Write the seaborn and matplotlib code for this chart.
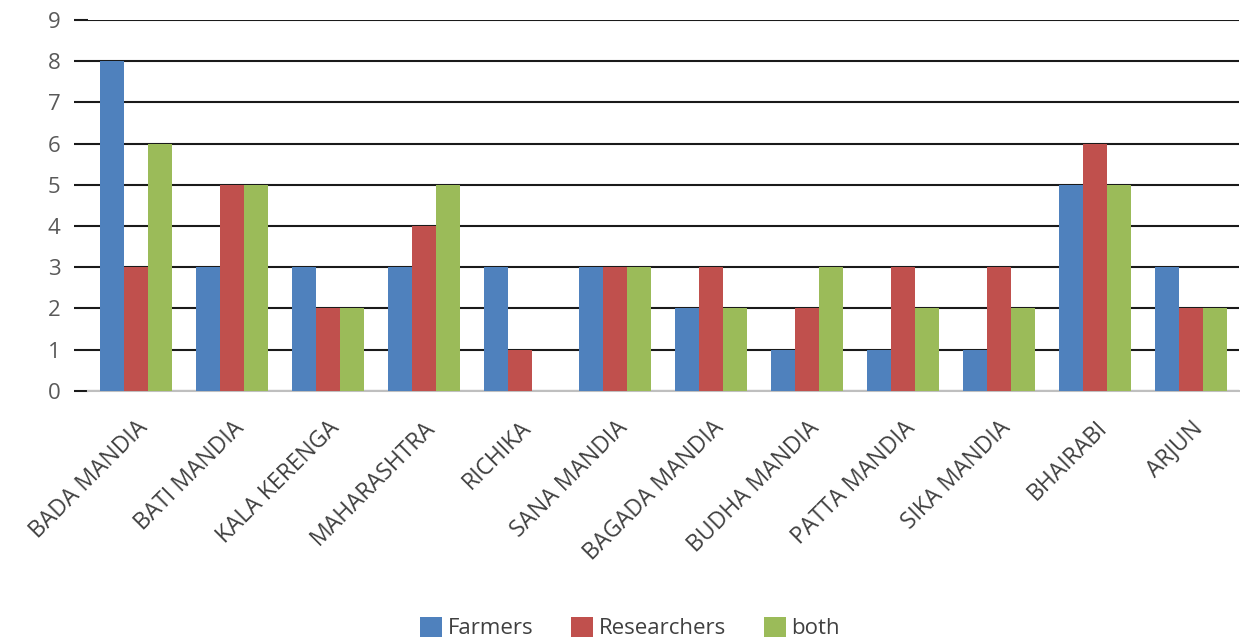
import pandas as pd
import seaborn as sns
import matplotlib.pyplot as plt

# chart values
varieties = ["BADA MANDIA", "BATI MANDIA", "KALA KERENGA", "MAHARASHTRA", "RICHIKA",
             "SANA MANDIA", "BAGADA MANDIA", "BUDHA MANDIA", "PATTA MANDIA",
             "SIKA MANDIA", "BHAIRABI", "ARJUN"]
farmers = [8, 3, 3, 3, 3, 3, 2, 1, 1, 1, 5, 3]
researchers = [3, 5, 2, 4, 1, 3, 3, 2, 3, 3, 6, 2]
both = [6, 5, 2, 5, 0, 3, 2, 3, 2, 2, 5, 2]
groups = ["Farmers", "Researchers", "both"]
colors = ["#4F81BD", "#C0504D", "#9BBB59"]

df = pd.DataFrame({"Variety": varieties, "Farmers": farmers,
                   "Researchers": researchers, "both": both})
df = df.melt(id_vars="Variety", var_name="Group", value_name="Count")

sns.set_style("white")
plt.rcParams["font.family"] = ["Open Sans", "DejaVu Sans"]

fig = plt.figure(figsize=(12.4, 6.43), dpi=100)
ax = fig.add_axes([0.071, 0.392, 0.928, 0.577])

sns.barplot(data=df, x="Variety", y="Count", hue="Group", hue_order=groups,
            palette=colors, width=0.75, gap=0, saturation=1, linewidth=0,
            ax=ax, zorder=3)

ax.set_ylim(0, 9)
ax.set_xlim(-0.5, 11.5)
ax.set_yticks(range(0, 10))
ax.yaxis.grid(True, color="#1a1a1a", linewidth=1.5, zorder=0)
ax.set_axisbelow(True)
for s in ["top", "right", "left"]:
    ax.spines[s].set_visible(False)
ax.spines["bottom"].set_color("#bfbfbf")
ax.spines["bottom"].set_linewidth(1.5)
ax.tick_params(axis="y", length=10, width=1.5, color="#1a1a1a", labelsize=16,
               labelcolor="#595959", left=True, pad=10)
ax.tick_params(axis="x", length=0, labelsize=16.5, labelcolor="#404040", pad=18)
plt.setp(ax.get_xticklabels(), rotation=45, ha="right", rotation_mode="anchor")
ax.set_xlabel("")
ax.set_ylabel("")

handles, labels = ax.get_legend_handles_labels()
ax.legend_.remove()
fig.legend(handles, labels, loc="center", bbox_to_anchor=(0.508, 0.023),
           ncol=3, frameon=False, fontsize=16,
           handlelength=1.0, handleheight=1.0, handletextpad=0.25, columnspacing=1.7,
           labelcolor="#404040", borderpad=0)

fig.savefig("out.png", dpi=100)
